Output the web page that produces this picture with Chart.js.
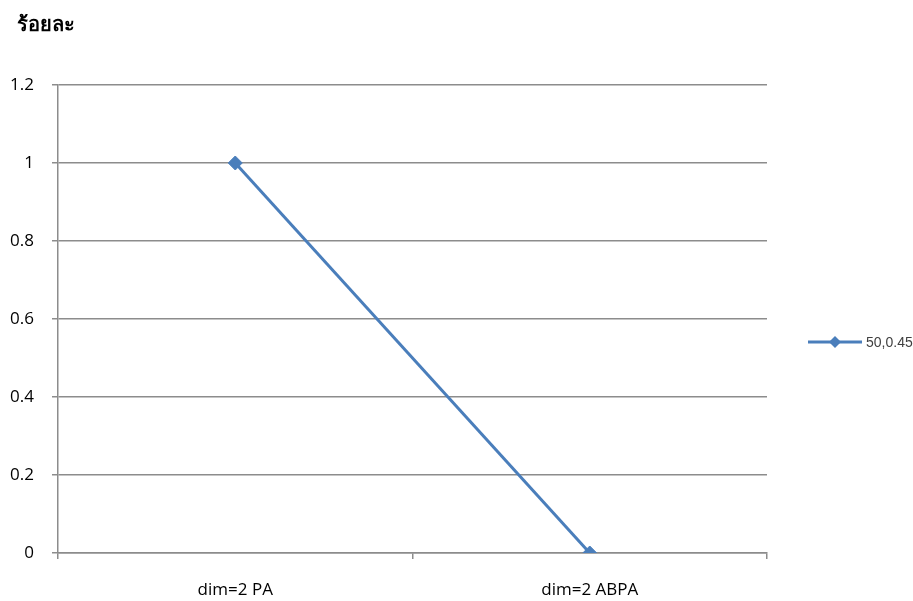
<!DOCTYPE html>
<html>
<head>
<meta charset="utf-8">
<script src="https://cdn.jsdelivr.net/npm/chart.js@4"></script>
<style>
  html, body { margin: 0; padding: 0; background: #ffffff; }
  #wrap { width: 913px; height: 601px; position: relative; }
</style>
</head>
<body>
<div id="wrap"><canvas id="chart" width="913" height="601"></canvas></div>
<script>
// Categories and the single series
const categories = ['dim=2 PA', 'dim=2 ABPA'];
const seriesName = '50,0.45';
const seriesValues = [1, 0];
const yTicks = ['0', '0.2', '0.4', '0.6', '0.8', '1', '1.2'];
const yTitle = 'ร้อยละ';

const lineColor = '#4a7ebb';
const gridColor = '#8c8c8c';
const labelFont = { family: '"Open Sans", "Noto Sans", sans-serif', size: 17 };

// Axis caption in the top-left corner
const cornerTitle = {
  id: 'cornerTitle',
  afterDraw(chart) {
    const ctx = chart.ctx;
    ctx.save();
    ctx.fillStyle = '#000000';
    ctx.font = 'bold 20px "Noto Sans", "Open Sans", sans-serif';
    ctx.textBaseline = 'alphabetic';
    ctx.textAlign = 'left';
    ctx.fillText(yTitle, 17, 31);
    ctx.restore();
  }
};

// Legend entry drawn to the right of the plot area
const sideLegend = {
  id: 'sideLegend',
  afterDraw(chart) {
    const ctx = chart.ctx;
    const ds = chart.data.datasets[0];
    const y = 342;
    ctx.save();
    ctx.strokeStyle = ds.borderColor;
    ctx.lineWidth = 3;
    ctx.beginPath();
    ctx.moveTo(808, y);
    ctx.lineTo(862, y);
    ctx.stroke();
    ctx.fillStyle = ds.borderColor;
    ctx.beginPath();
    ctx.moveTo(835, y - 6);
    ctx.lineTo(841, y);
    ctx.lineTo(835, y + 6);
    ctx.lineTo(829, y);
    ctx.closePath();
    ctx.fill();
    ctx.fillStyle = '#404040';
    ctx.font = '14px "Liberation Sans", Arial, sans-serif';
    ctx.textBaseline = 'middle';
    ctx.textAlign = 'left';
    ctx.fillText(ds.label, 866, y + 1);
    ctx.restore();
  }
};

new Chart(document.getElementById('chart'), {
  type: 'line',
  data: {
    labels: categories,
    datasets: [{
      label: seriesName,
      data: seriesValues,
      borderColor: lineColor,
      backgroundColor: lineColor,
      borderWidth: 3,
      tension: 0,
      pointStyle: 'rectRot',
      pointRadius: 7,
      pointHoverRadius: 7,
      pointBackgroundColor: lineColor,
      pointBorderColor: lineColor,
      pointBorderWidth: 1
    }]
  },
  options: {
    responsive: false,
    animation: false,
    devicePixelRatio: 1,
    layout: { padding: { left: 0, right: 146, top: 85, bottom: 0 } },
    plugins: {
      legend: { display: false },
      tooltip: { enabled: false },
      title: { display: false }
    },
    scales: {
      x: {
        offset: true,
        grid: {
          display: true,
          offset: true,
          drawOnChartArea: false,
          drawTicks: true,
          tickLength: 6,
          color: gridColor,
          lineWidth: 1.5
        },
        border: { display: true, color: gridColor, width: 1.5 },
        ticks: { color: '#000000', font: labelFont, padding: 21, maxRotation: 0 },
        afterFit(scale) { scale.height = 48; }
      },
      y: {
        min: 0,
        max: 1.2,
        ticks: {
          stepSize: 0.2,
          color: '#000000',
          font: labelFont,
          padding: 18,
          callback: (v, i) => yTicks[i]
        },
        grid: { color: gridColor, lineWidth: 1.5, tickLength: 6 },
        border: { display: true, color: gridColor, width: 1.5 },
        afterFit(scale) { scale.width = 58; }
      }
    }
  },
  plugins: [cornerTitle, sideLegend]
});
</script>
</body>
</html>
